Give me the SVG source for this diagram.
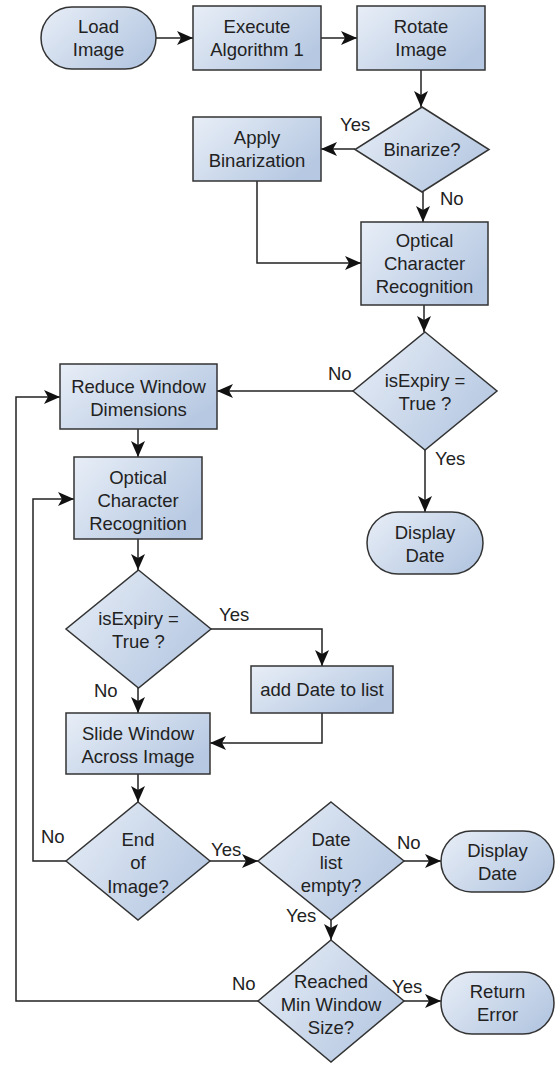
<svg xmlns="http://www.w3.org/2000/svg" width="556" height="1065" viewBox="0 0 556 1065">
<style>
.n{fill:url(#g);stroke:#333;stroke-width:1.5}
.t{font-family:"Liberation Sans",Arial,sans-serif;font-size:18.5px;fill:#222;text-anchor:middle}
.l{font-family:"Liberation Sans",Arial,sans-serif;font-size:18.5px;fill:#222}
.c{fill:none;stroke:#222;stroke-width:1.5;marker-end:url(#a)}
</style>
<defs>
<linearGradient id="g" x1="0" y1="0" x2="1" y2="0.6">
<stop offset="0" stop-color="#e8eef7"/>
<stop offset="1" stop-color="#b7c9e2"/>
</linearGradient>
<marker id="a" markerUnits="userSpaceOnUse" viewBox="0 0 16 14" refX="16" refY="7" markerWidth="16" markerHeight="14" orient="auto">
<path d="M0,0 L16,7 L0,14 L4,7 Z" fill="#111"/>
</marker>
</defs>
<rect width="556" height="1065" fill="#fff"/>
<g id="connectors">
<path class="c" d="M156,38 H193"/>
<path class="c" d="M321,38 H357"/>
<path class="c" d="M421,70 V107"/>
<path class="c" d="M355,149 H321"/>
<path class="c" d="M423,192 V222"/>
<path class="c" d="M257,181 V263 H361"/>
<path class="c" d="M424,305 V332"/>
<path class="c" d="M353,391 H217"/>
<path class="c" d="M425,450 V512"/>
<path class="c" d="M138,429 V457"/>
<path class="c" d="M138,539 V570"/>
<path class="c" d="M211,629 H322 V666"/>
<path class="c" d="M138,688 V713"/>
<path class="c" d="M322,713 V743 H210"/>
<path class="c" d="M138,774 V802"/>
<path class="c" d="M66,861 H33 V499 H74"/>
<path class="c" d="M210,861 H258"/>
<path class="c" d="M404,861 H441"/>
<path class="c" d="M331,920 V940"/>
<path class="c" d="M258,1001 H16 V397 H60"/>
<path class="c" d="M404,1001 H441"/>
<text class="l" x="340" y="131">Yes</text>
<text class="l" x="440" y="205">No</text>
<text class="l" x="328" y="380">No</text>
<text class="l" x="435" y="465">Yes</text>
<text class="l" x="219" y="621">Yes</text>
<text class="l" x="94" y="697">No</text>
<text class="l" x="41" y="843">No</text>
<text class="l" x="211" y="856">Yes</text>
<text class="l" x="397" y="849">No</text>
<text class="l" x="286" y="922">Yes</text>
<text class="l" x="232" y="990">No</text>
<text class="l" x="392" y="993">Yes</text>
</g>
<g id="load"><rect class="n" x="41" y="7" width="115" height="62" rx="31"/><text class="t" x="98.5" y="33">Load</text><text class="t" x="98.5" y="56">Image</text></g>
<g id="execute"><rect class="n" x="193" y="6" width="128" height="64"/><text class="t" x="257" y="33">Execute</text><text class="t" x="257" y="56">Algorithm 1</text></g>
<g id="rotate"><rect class="n" x="357" y="6" width="128" height="64"/><text class="t" x="421" y="33">Rotate</text><text class="t" x="421" y="56">Image</text></g>
<g id="binarize"><path class="n" d="M422,107 L489,149.5 L422,192 L355,149.5 Z"/><text class="t" x="422" y="156">Binarize?</text></g>
<g id="apply"><rect class="n" x="193" y="117" width="128" height="64"/><text class="t" x="257" y="144">Apply</text><text class="t" x="257" y="167">Binarization</text></g>
<g id="ocr1"><rect class="n" x="361" y="222" width="127" height="83"/><text class="t" x="424.5" y="247">Optical</text><text class="t" x="424.5" y="270">Character</text><text class="t" x="424.5" y="293">Recognition</text></g>
<g id="isexpiry1"><path class="n" d="M425,332 L497,391 L425,450 L353,391 Z"/><text class="t" x="425" y="387">isExpiry =</text><text class="t" x="425" y="410">True ?</text></g>
<g id="display1"><rect class="n" x="367" y="512" width="116" height="62" rx="31"/><text class="t" x="425" y="539">Display</text><text class="t" x="425" y="562">Date</text></g>
<g id="reduce"><rect class="n" x="60" y="364" width="157" height="65"/><text class="t" x="138.5" y="393">Reduce Window</text><text class="t" x="138.5" y="416">Dimensions</text></g>
<g id="ocr2"><rect class="n" x="74" y="457" width="128" height="82"/><text class="t" x="138" y="484">Optical</text><text class="t" x="138" y="507">Character</text><text class="t" x="138" y="530">Recognition</text></g>
<g id="isexpiry2"><path class="n" d="M138.5,570 L211,629 L138.5,688 L66,629 Z"/><text class="t" x="138.5" y="625">isExpiry =</text><text class="t" x="138.5" y="648">True ?</text></g>
<g id="adddate"><rect class="n" x="251" y="666" width="142" height="47"/><text class="t" x="322" y="696">add Date to list</text></g>
<g id="slide"><rect class="n" x="66" y="713" width="144" height="61"/><text class="t" x="138" y="740">Slide Window</text><text class="t" x="138" y="763">Across Image</text></g>
<g id="endimage"><path class="n" d="M138,802 L210,861 L138,920 L66,861 Z"/><text class="t" x="138" y="846">End</text><text class="t" x="138" y="869">of</text><text class="t" x="138" y="893">Image?</text></g>
<g id="datelist"><path class="n" d="M331,802 L404,861 L331,920 L258,861 Z"/><text class="t" x="331" y="846">Date</text><text class="t" x="331" y="869">list</text><text class="t" x="331" y="892">empty?</text></g>
<g id="display2"><rect class="n" x="441" y="831" width="113" height="61" rx="30.5"/><text class="t" x="497.5" y="857">Display</text><text class="t" x="497.5" y="880">Date</text></g>
<g id="reached"><path class="n" d="M331,940 L404,1001 L331,1062 L258,1001 Z"/><text class="t" x="331" y="988">Reached</text><text class="t" x="331" y="1011">Min Window</text><text class="t" x="331" y="1034">Size?</text></g>
<g id="returnerror"><rect class="n" x="441" y="972" width="113" height="62" rx="31"/><text class="t" x="497.5" y="998">Return</text><text class="t" x="497.5" y="1021">Error</text></g>
</svg>
